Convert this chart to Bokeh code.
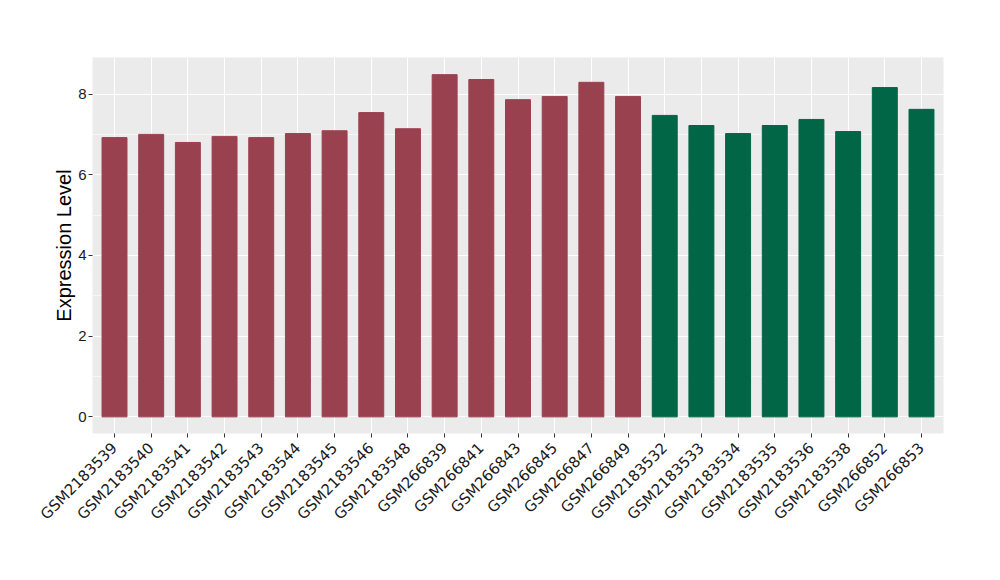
import math
from bokeh.plotting import figure
from bokeh.models import FactorRange, Range1d, ColumnDataSource, FixedTicker
from bokeh.embed import file_html
from bokeh.resources import INLINE

samples = ["GSM2183539", "GSM2183540", "GSM2183541", "GSM2183542", "GSM2183543",
           "GSM2183544", "GSM2183545", "GSM2183546", "GSM2183548", "GSM266839",
           "GSM266841", "GSM266843", "GSM266845", "GSM266847", "GSM266849",
           "GSM2183532", "GSM2183533", "GSM2183534", "GSM2183535", "GSM2183536",
           "GSM2183538", "GSM266852", "GSM266853"]
values = [6.92, 7.00, 6.80, 6.95, 6.92, 7.02, 7.09, 7.54, 7.14, 8.48,
          8.36, 7.86, 7.94, 8.29, 7.94, 7.47, 7.22, 7.02, 7.22, 7.37,
          7.07, 8.16, 7.62]
groups = ["A"] * 15 + ["B"] * 8
group_colors = {"A": "#9A4150", "B": "#006646"}
colors = [group_colors[g] for g in groups]
y_ticks = [0, 2, 4, 6, 8]

src = ColumnDataSource(dict(x=samples, top=values, color=colors))

p = figure(width=992, height=572, output_backend="svg", toolbar_location=None,
           x_range=FactorRange(factors=samples, range_padding=0.1, range_padding_units="absolute"),
           y_range=Range1d(-0.412, 8.905),
           min_border_left=92, min_border_right=49, min_border_top=57, min_border_bottom=139)

p.vbar(x="x", top="top", bottom=0, width=0.68, color="color", source=src)

p.background_fill_color = "#EBEBEB"
p.border_fill_color = "white"
p.outline_line_color = None

p.xgrid.grid_line_color = "white"
p.xgrid.grid_line_width = 1.1
p.ygrid.grid_line_color = "white"
p.ygrid.grid_line_width = 1.1
p.ygrid.minor_grid_line_color = "white"
p.ygrid.minor_grid_line_width = 0.55
p.xgrid.level = "underlay"
p.ygrid.level = "underlay"

p.yaxis.ticker = FixedTicker(ticks=y_ticks, minor_ticks=[1, 3, 5, 7])
p.yaxis.axis_label = "Expression Level"
p.yaxis.axis_label_text_font = "Liberation Sans"
p.yaxis.axis_label_text_font_size = "20px"
p.yaxis.axis_label_text_font_style = "normal"
p.yaxis.axis_label_text_color = "black"
p.yaxis.axis_label_standoff = 0

for ax in (p.xaxis, p.yaxis):
    ax.axis_line_color = None
    ax.major_tick_line_color = "#333333"
    ax.major_tick_out = 4
    ax.major_tick_in = 0
    ax.minor_tick_line_color = None
    ax.major_label_text_color = "#1A1A1A"

p.yaxis.major_label_text_font = "Liberation Sans"
p.yaxis.major_label_text_font_size = "15px"
p.yaxis.major_label_standoff = 2
p.xaxis.major_label_text_font = "DejaVu Sans"
p.xaxis.major_label_text_font_size = "15px"
p.xaxis.major_label_orientation = math.pi / 4
p.xaxis.major_label_standoff = 8

open("out.html", "w").write(file_html(p, INLINE))
